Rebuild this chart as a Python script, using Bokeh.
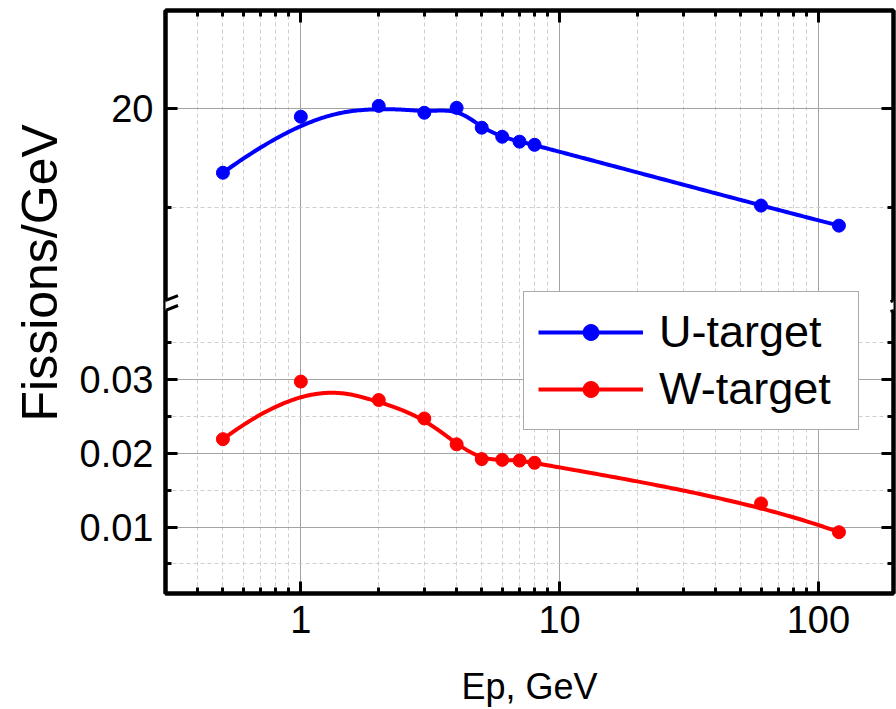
import numpy as np
from bokeh.plotting import figure
from bokeh.models import (Range1d, LinearAxis, LogAxis, FixedTicker, Legend,
                          LegendItem, PolyAnnotation, Title)
from bokeh.embed import file_html
from bokeh.resources import INLINE

# ---- data -------------------------------------------------------------
energy = [0.5, 1, 2, 3, 4, 5, 6, 7, 8, 60, 120]                       # Ep, GeV
u_target = [16.75, 19.6, 20.15, 19.8, 20.05, 19.04, 18.58, 18.33, 18.17, 15.08, 14.06]
w_target = [0.0219, 0.0297, 0.0272, 0.0247, 0.0212, 0.0192, 0.0191, 0.0190,
            0.0187, 0.0132, 0.0093]

x_major = [1, 10, 100]
x_minor = [0.3, 0.4, 0.5, 0.6, 0.7, 0.8, 0.9, 2, 3, 4, 5, 6, 7, 8, 9,
           20, 30, 40, 50, 60, 70, 80, 90]
lower_major = [0.01, 0.02, 0.03]
lower_minor = [0.005, 0.015, 0.025, 0.035]
lower_labels = ["0.01", "0.02", "0.03"]
upper_major = [20]
upper_minor = [15, 25]
upper_labels = ["20"]

# ---- layout -----------------------------------------------------------
X_RANGE = (0.3, 195)
LOWER_RANGE = (0.001, 0.04)     # W-target panel
UPPER_RANGE = (10, 25)          # U-target panel
FRAME_W, FRAME_H = 728, 585
LOWER_PX = 289                  # height of the lower panel
FONT = "Liberation Sans"
BLUE, RED = "#0000ff", "#ff0000"

lower_frac = LOWER_PX / FRAME_H
main_start = LOWER_RANGE[0]
main_end = LOWER_RANGE[0] + (LOWER_RANGE[1] - LOWER_RANGE[0]) / lower_frac
upper_start = UPPER_RANGE[1] - (UPPER_RANGE[1] - UPPER_RANGE[0]) / (1 - lower_frac)
upper_end = UPPER_RANGE[1]


def upper_to_main(v):
    frac = (v - upper_start) / (upper_end - upper_start)
    return main_start + frac * (main_end - main_start)


def bspline(xs, ys, degree=3, samples=500):
    """Clamped uniform B-spline using the points as control points (log-x)."""
    pts = np.column_stack([np.log10(np.asarray(xs, float)), np.asarray(ys, float)])
    n, k = len(pts), degree
    knots = np.concatenate([np.zeros(k + 1), np.arange(1, n - k),
                            np.full(k + 1, n - k)]).astype(float)
    t = np.linspace(0, n - k, samples)
    m = len(knots)
    N = np.zeros((samples, m - 1))
    for i in range(m - 1):
        N[:, i] = (knots[i] <= t) & (t < knots[i + 1])
    last = np.max(np.where(knots[:-1] < knots[1:])[0])
    N[-1, :] = 0
    N[-1, last] = 1
    for d in range(1, k + 1):
        Nn = np.zeros((samples, m - 1 - d))
        for i in range(m - 1 - d):
            den1 = knots[i + d] - knots[i]
            den2 = knots[i + d + 1] - knots[i + 1]
            term = np.zeros(samples)
            if den1 > 0:
                term += (t - knots[i]) / den1 * N[:, i]
            if den2 > 0:
                term += (knots[i + d + 1] - t) / den2 * N[:, i + 1]
            Nn[:, i] = term
        N = Nn
    curve = N @ pts
    return 10 ** curve[:, 0], curve[:, 1]


# ---- figure -----------------------------------------------------------
p = figure(width=896, height=709, x_axis_type="log",
           x_range=Range1d(*X_RANGE), y_range=Range1d(main_start, main_end),
           output_backend="svg", toolbar_location=None,
           min_border_left=165, min_border_right=3, min_border_top=10,
           min_border_bottom=114)
p.extra_y_ranges = {"upper": Range1d(upper_start, upper_end)}
p.outline_line_color = "black"
p.outline_line_width = 4
p.background_fill_color = "white"
p.border_fill_color = "white"

x_ticker = FixedTicker(ticks=x_major, minor_ticks=x_minor)
y_ticks = lower_major + [upper_to_main(v) for v in upper_major]
y_minor = lower_minor + [upper_to_main(v) for v in upper_minor]
y_ticker = FixedTicker(ticks=y_ticks, minor_ticks=y_minor)
y_overrides = dict(zip(y_ticks, lower_labels + upper_labels))


def style_axis(ax, show_labels):
    ax.axis_line_width = 4
    ax.axis_line_color = "black"
    ax.major_tick_in = 12
    ax.major_tick_out = 0
    ax.major_tick_line_width = 3
    ax.major_tick_line_color = "black"
    ax.minor_tick_in = 6
    ax.minor_tick_out = 0
    ax.minor_tick_line_width = 3
    ax.minor_tick_line_color = "black"
    ax.major_label_text_font = FONT
    ax.major_label_text_color = "black"
    if show_labels:
        ax.major_label_text_font_size = "38px"
        ax.major_label_standoff = 12
    else:
        # mirrored frame side: ticks only
        ax.major_label_text_font_size = "1px"
        ax.major_label_text_alpha = 0
        ax.major_label_standoff = 0


xb = p.xaxis[0]
xb.ticker = x_ticker
style_axis(xb, True)
xb.major_label_overrides = {1: "1", 10: "10", 100: "100"}
xb.axis_label = "Ep, GeV"
xb.axis_label_text_font = FONT
xb.axis_label_text_font_size = "36px"
xb.axis_label_text_font_style = "normal"
xb.axis_label_text_color = "black"
xb.axis_label_standoff = 30

yl = p.yaxis[0]
yl.ticker = y_ticker
style_axis(yl, True)
yl.major_label_overrides = y_overrides

xt = LogAxis(ticker=x_ticker)
style_axis(xt, False)
p.add_layout(xt, "above")

yr = LinearAxis(ticker=y_ticker)
style_axis(yr, False)
p.add_layout(yr, "right")

y_title = Title(text="Fissions/GeV", align="left", offset=172,
                text_font=FONT, text_font_size="50px",
                text_font_style="normal", text_color="black")
if "standoff" in y_title.properties():
    y_title.standoff = 18
p.add_layout(y_title, "left")

# grid
for g, tk in ((p.xgrid[0], x_ticker), (p.ygrid[0], y_ticker)):
    g.ticker = tk
    g.grid_line_color = "#a3a3a3"
    g.grid_line_width = 1
    g.minor_grid_line_color = "#cfcfcf"
    g.minor_grid_line_dash = "4 3"
    g.minor_grid_line_width = 1

# ---- series -----------------------------------------------------------
ux, uy = bspline(energy, u_target)
wx, wy = bspline(energy, w_target)
u_line = p.line(ux, uy, color=BLUE, line_width=4, y_range_name="upper")
u_pts = p.scatter(energy, u_target, size=13, color=BLUE, y_range_name="upper")
w_line = p.line(wx, wy, color=RED, line_width=4)
w_pts = p.scatter(energy, w_target, size=13, color=RED)

legend = Legend(items=[LegendItem(label="U-target", renderers=[u_line, u_pts]),
                       LegendItem(label="W-target", renderers=[w_line, w_pts])],
                location=(358, 163), glyph_width=105, glyph_height=40,
                label_text_font=FONT, label_text_font_size="45px",
                label_text_color="black",
                label_standoff=16, label_width=185, padding=14, spacing=5,
                border_line_color="#555555", border_line_width=1.5,
                background_fill_color="white", background_fill_alpha=1)
p.add_layout(legend)

# ---- axis break marks ---------------------------------------------------
dec_per_px = np.log10(X_RANGE[1] / X_RANGE[0]) / FRAME_W
y_per_px = (main_end - main_start) / FRAME_H
brk = LOWER_RANGE[1]


def bx(edge, off):
    return edge * 10 ** (off * dec_per_px)


def by(off):
    return brk + off * y_per_px


for edge, lo, hi in ((X_RANGE[0], -12.5, 12.5), (X_RANGE[1], -3, 25)):
    # gap in the axis line between the two slashes
    gap = [(-4, -5), (4, -5), (4, 5), (-4, 5)]
    rise = 10 / 25
    p.add_layout(PolyAnnotation(
        xs=[bx(edge, dx) for dx, _ in gap],
        ys=[by(s + rise * dx) for dx, s in gap],
        fill_color="white", fill_alpha=1, line_alpha=0))
    for s in (-5, 5):
        p.add_layout(PolyAnnotation(
            xs=[bx(edge, lo), bx(edge, hi)],
            ys=[by(s + rise * lo), by(s + rise * hi)],
            fill_alpha=0, line_color="black", line_alpha=1, line_width=3))

open("out.html", "w").write(file_html(p, INLINE))
